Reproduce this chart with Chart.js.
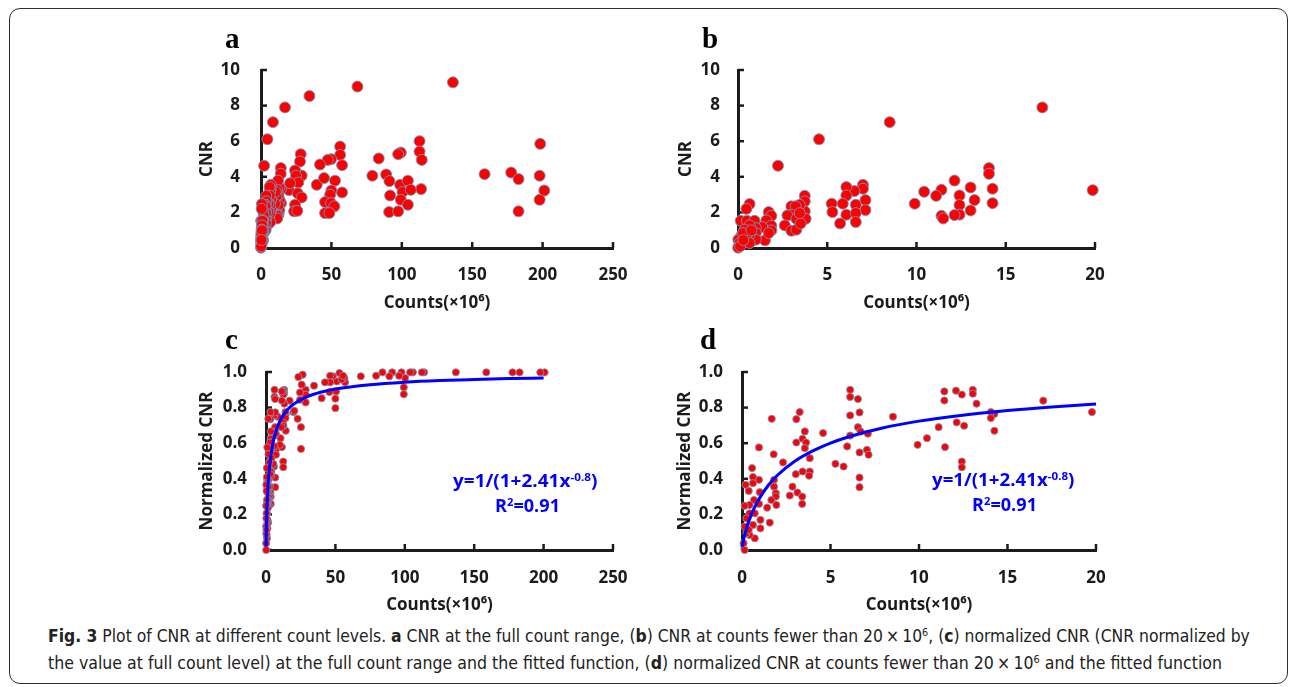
<!DOCTYPE html>
<html><head><meta charset="utf-8">
<script src="https://cdn.jsdelivr.net/npm/chart.js@4.4.0/dist/chart.umd.min.js"></script>
<style>
html,body{margin:0;padding:0;background:#fff;}
body{width:1292px;height:687px;overflow:hidden;position:relative;}
.frame{position:absolute;left:9px;top:8px;width:1279px;height:676px;border:1.5px solid #2e2e2e;border-radius:11px;box-sizing:border-box;}
canvas.cv{position:absolute;}
.letter{position:absolute;font-family:"Liberation Serif","Times New Roman",serif;font-weight:bold;font-size:29px;line-height:28px;color:#000;}
.ann{position:absolute;font-family:"Open Sans",sans-serif;font-weight:bold;color:#0000ff;font-size:17px;line-height:20px;white-space:nowrap;transform-origin:0 50%;}
.ann sup,.cap sup{font-size:0.62em;vertical-align:baseline;position:relative;top:-0.55em;}
.cap{position:absolute;left:48px;font-family:"Liberation Sans Narrow","DejaVu Sans Condensed","Open Sans",sans-serif;font-size:17px;line-height:22px;color:#222;white-space:nowrap;transform-origin:0 50%;}
.cap b{font-weight:bold;}
</style>
</head><body>
<div class="frame"></div>
<canvas id="ca" class="cv" width="460" height="270" style="left:180px;top:50px"></canvas>
<canvas id="cb" class="cv" width="460" height="270" style="left:660px;top:50px"></canvas>
<canvas id="cc" class="cv" width="460" height="270" style="left:180px;top:350px"></canvas>
<canvas id="cd" class="cv" width="460" height="270" style="left:660px;top:350px"></canvas>
<div class="letter" style="left:225px;top:24px">a</div>
<div class="letter" style="left:702px;top:24px">b</div>
<div class="letter" style="left:225px;top:325px">c</div>
<div class="letter" style="left:700px;top:325px">d</div>
<div class="ann" id="annC1">y=1/(1+2.41x<sup>-0.8</sup>)</div>
<div class="ann" id="annC2">R<sup>2</sup>=0.91</div>
<div class="ann" id="annD1">y=1/(1+2.41x<sup>-0.8</sup>)</div>
<div class="ann" id="annD2">R<sup>2</sup>=0.91</div>
<div class="cap" id="cap1"><b>Fig. 3</b> Plot of CNR at different count levels. <b>a</b> CNR at the full count range, (<b>b</b>) CNR at counts fewer than 20&thinsp;×&thinsp;10<sup>6</sup>, (<b>c</b>) normalized CNR (CNR normalized by</div>
<div class="cap" id="cap2">the value at full count level) at the full count range and the fitted function, (<b>d</b>) normalized CNR at counts fewer than 20&thinsp;×&thinsp;10<sup>6</sup> and the fitted function</div>
<script>
// ---------- DATA ----------
// CNR, counts below 20 ×10^6 (panel b, also part of panel a)
const countsLow = [17.05,8.50,4.54,2.24,19.87,14.06,14.06,14.26,14.26,13.03,13.25,13.03,12.13,12.41,12.41,12.41,12.13,11.40,11.10,11.40,11.50,10.43,9.90,
  7.00,7.00,7.14,7.14,6.52,6.07,6.07,5.87,6.07,5.72,6.60,6.60,6.60,5.25,5.29,
  3.74,3.74,3.74,3.79,3.46,2.99,3.23,2.99,2.77,2.62,2.99,3.27,3.27,3.51,3.46,
  1.72,1.87,1.59,1.87,1.87,1.36,1.51,1.72,
  0.65,0.47,0.15,0.50,0.93,1.00,1.00,1.00,0.65,0.37,0.65,0.47,0.19,0.02,0.09,0.01,0.65,0.28,0.75,0.12,0.30];
const cnrLow = [7.90,7.07,6.11,4.62,3.25,4.49,4.17,3.33,2.52,3.40,2.69,2.11,3.79,2.95,2.41,1.88,1.85,3.27,2.93,1.81,1.66,3.16,2.49,
  3.55,3.33,2.69,2.13,3.20,3.42,2.95,2.49,1.87,1.38,2.43,1.96,1.46,2.49,2.02,
  2.93,2.62,2.06,1.64,2.43,2.34,2.34,1.87,1.83,1.27,0.97,1.03,1.64,1.38,1.96,
  2.02,1.81,1.55,1.25,0.99,1.18,0.43,0.84,
  2.47,2.20,1.53,1.53,1.53,1.12,0.84,0.47,1.27,1.03,0.75,0.62,0.69,0.47,0.28,0.02,0.28,0.84,0.99,0.10,0.45];
// CNR, counts above 20 ×10^6 (rest of panel a)
const countsHigh = [136.3,68.5,34.4,198.3,197.9,201.2,197.9,177.7,182.9,182.9,158.8,112.6,112.6,114.2,113.7,99.3,97.4,83.6,79.1,88.9,91.2,91.7,91.0,97.4,98.8,100.5,99.3,104.3,106.4,104.3,
  56.2,56.2,57.6,57.6,49.8,47.4,41.9,39.6,44.8,52.6,50.0,49.1,45.5,49.8,52.1,45.5,48.6,
  28.2,27.7,28.9,24.2,24.9,26.5,20.6,26.1,28.9,24.2,23.5,25.8];
const cnrHigh = [9.31,9.07,8.54,5.85,4.06,3.23,2.71,4.24,3.87,2.06,4.15,6.00,5.42,4.95,3.31,5.36,5.27,5.03,4.06,4.13,3.76,2.95,2.02,2.06,3.55,3.14,2.71,3.78,3.27,2.43,
  5.70,5.23,4.65,3.12,4.99,4.95,4.69,3.55,3.93,3.78,3.23,2.99,2.58,2.52,2.34,1.96,1.96,
  5.27,4.86,4.07,4.36,4.06,3.68,3.64,3.07,2.84,2.43,2.06,2.09];
// Normalized CNR, counts below 20 ×10^6 (panel d, also part of panel c)
const normCountsLow = [19.77,17.02,14.26,14.26,14.06,14.06,13.04,13.04,13.25,12.09,12.42,12.13,12.55,12.42,12.42,11.43,11.43,11.47,11.11,10.45,9.92,8.53,
  6.11,6.11,6.11,6.11,6.55,6.64,6.55,6.70,6.64,6.64,6.64,7.11,7.06,7.15,5.94,5.74,5.28,4.58,
  3.26,3.07,3.55,3.42,3.62,3.55,3.07,3.83,3.83,3.79,3.42,3.04,2.85,3.13,3.40,3.40,2.70,2.32,
  1.79,1.68,1.81,1.81,1.91,1.91,1.94,1.66,1.42,1.57,
  0.96,0.96,1.00,0.96,1.04,1.04,0.57,0.62,0.62,0.21,0.38,0.68,0.43,0.15,0.72,0.43,0.25,0.62,0.72,0.43,0.15,0.25,0.38,0.09,0.15];
const normCnrLow = [0.775,0.839,0.670,0.764,0.775,0.741,0.900,0.878,0.822,0.895,0.873,0.717,0.698,0.497,0.465,0.891,0.840,0.578,0.690,0.628,0.591,0.749,
  0.900,0.860,0.756,0.643,0.848,0.773,0.690,0.666,0.548,0.407,0.353,0.653,0.563,0.535,0.582,0.469,0.484,0.657,
  0.775,0.735,0.666,0.625,0.604,0.572,0.604,0.516,0.441,0.417,0.441,0.426,0.356,0.323,0.300,0.259,0.306,0.492,
  0.538,0.737,0.394,0.356,0.319,0.300,0.253,0.281,0.238,0.154,
  0.576,0.394,0.325,0.259,0.169,0.122,0.460,0.410,0.375,0.366,0.332,0.281,0.253,0.248,0.206,0.206,0.178,0.141,0.066,0.084,0.131,0.094,0.113,0.038,0.000];
// Normalized CNR, counts above 20 ×10^6 (rest of panel c)
const normCountsHigh = [200.7,197.6,182.7,177.6,158.7,136.8,113.9,112.3,105.8,103.8,100.2,99.3,99.3,97.6,95.9,90.9,88.9,83.9,79.3,68.3,
  57.0,56.5,52.9,51.0,48.1,46.2,46.2,50.5,50.0,50.0,45.7,42.5,40.1,34.6,54.5,55.5,
  28.6,28.6,28.6,26.4,25.7,23.3,24.5,24.5,25.2,25.2,22.8,20.4];
const normCnrHigh = [0.998,0.998,0.998,0.998,0.998,0.998,0.998,0.998,0.998,0.998,0.966,0.914,0.875,0.998,0.979,0.998,0.976,0.998,0.979,0.976,
  0.942,0.966,0.994,0.947,0.976,0.979,0.942,0.891,0.850,0.797,0.887,0.942,0.853,0.923,0.958,0.979,
  0.900,0.872,0.829,0.985,0.929,0.972,0.885,0.844,0.690,0.568,0.737,0.782];
// Fitted curve y=1/(1+2.41x^-0.8)
const fitCounts = [0.02,0.05,0.1,0.2,0.3,0.5,0.75,1,1.5,2,3,4,5,6,8,10,12,15,17.5,20,30,40,50,75,100,125,150,175,200];
const fitNormCnr = [0.018,0.036,0.062,0.103,0.137,0.192,0.248,0.293,0.365,0.420,0.500,0.557,0.601,0.635,0.687,0.724,0.752,0.784,0.804,0.820,0.863,0.888,0.905,0.929,0.943,0.952,0.958,0.963,0.966];
// Tick values / labels
const xTicksFull = [0,50,100,150,200,250];
const xTicksLow = [0,5,10,15,20];
const yTicksCnr = [0,2,4,6,8,10];
const yTicksNorm = [0,0.2,0.4,0.6,0.8,1.0];
const yTickLabelsNorm = ['0.0','0.2','0.4','0.6','0.8','1.0'];
const xTitle = 'Counts(×10⁶)';

// ---------- DRAWING ----------
const AXIS = '#1b1b1b', TXT = '#1b1b1b';
const TICKFONT = {family:"'Open Sans', sans-serif", weight:'bold', size:17};
const TITLEFONT = {family:"'Open Sans', sans-serif", weight:'bold', size:17};

function pairs(xs, ys){ return xs.map((x,i)=>({x:x, y:ys[i]})); }

const innerTicks = {
  id:'innerTicks',
  beforeDatasetsDraw(chart){
    const {ctx, chartArea} = chart, x = chart.scales.x, y = chart.scales.y;
    ctx.save(); ctx.strokeStyle = AXIS; ctx.lineWidth = 2.5;
    x.ticks.forEach(t=>{ const px = x.getPixelForValue(t.value);
      ctx.beginPath(); ctx.moveTo(px, chartArea.bottom); ctx.lineTo(px, chartArea.bottom-6); ctx.stroke(); });
    y.ticks.forEach(t=>{ const py = y.getPixelForValue(t.value);
      ctx.beginPath(); ctx.moveTo(chartArea.left, py); ctx.lineTo(chartArea.left+6, py); ctx.stroke(); });
    ctx.restore();
  }
};

function pointSet(data, r){
  return {type:'scatter', data:data, pointRadius:r, pointHoverRadius:r, pointBackgroundColor:'#ff0000',
    pointBorderColor:'rgba(110,150,190,0.9)', pointBorderWidth:1, showLine:false, clip:false};
}
function fitSet(xmax){
  const d = pairs(fitCounts, fitNormCnr).filter(p=>p.x<=xmax);
  return {type:'line', data:d, borderColor:'#0000ff', borderWidth:3, pointRadius:0, fill:false,
    cubicInterpolationMode:'monotone', clip:false};
}

function build(id, o){
  return new Chart(document.getElementById(id), {
    type:'scatter',
    data:{datasets:o.datasets},
    options:{
      responsive:false, animation:false, devicePixelRatio:1, events:[],
      layout:{padding:{top:o.padTop, right:o.padRight, left:0, bottom:0}},
      plugins:{legend:{display:false}, tooltip:{enabled:false}},
      scales:{
        x:{type:'linear', position:'bottom', min:o.xTicks[0], max:o.xTicks[o.xTicks.length-1],
          grid:{display:false, drawTicks:false},
          border:{display:true, color:AXIS, width:3},
          afterBuildTicks:s=>{ s.ticks = o.xTicks.map(v=>({value:v})); },
          afterFit:s=>{ s.height = o.xAxisH; s.paddingLeft = 0; s.paddingRight = 0; },
          ticks:{padding:o.xTickPad, font:TICKFONT, color:TXT, maxRotation:0, autoSkip:false,
            callback:(v,i)=>String(o.xTicks[i])},
          title:{display:true, text:xTitle, font:TITLEFONT, color:TXT, padding:{top:0,bottom:o.xTitlePad}}
        },
        y:{type:'linear', position:'left', min:o.yTicks[0], max:o.yTicks[o.yTicks.length-1],
          grid:{display:false, drawTicks:false},
          border:{display:true, color:AXIS, width:3},
          afterBuildTicks:s=>{ s.ticks = o.yTicks.map(v=>({value:v})); },
          afterFit:s=>{ s.width = o.yAxisW; s.paddingTop = 0; s.paddingBottom = 0; },
          ticks:{padding:o.yTickPad, font:TICKFONT, color:TXT, autoSkip:false,
            callback:(v,i)=>o.yLabels[i]},
          title:{display:true, text:o.yTitle, font:TITLEFONT, color:TXT, padding:{top:o.yTitlePad,bottom:0}}
        }
      }
    },
    plugins:[innerTicks]
  });
}

const cnrLabels = yTicksCnr.map(String);
build('ca', {datasets:[pointSet(pairs(countsLow.concat(countsHigh), cnrLow.concat(cnrHigh)), 5.5)],
  xTicks:xTicksFull, yTicks:yTicksCnr, yLabels:cnrLabels, yTitle:'CNR',
  padTop:20, padRight:27, yAxisW:81, xAxisH:72, xTickPad:17, yTickPad:21, xTitlePad:7, yTitlePad:17});
build('cb', {datasets:[pointSet(pairs(countsLow, cnrLow), 5.5)],
  xTicks:xTicksLow, yTicks:yTicksCnr, yLabels:cnrLabels, yTitle:'CNR',
  padTop:20, padRight:25, yAxisW:78, xAxisH:72, xTickPad:17, yTickPad:18, xTitlePad:7, yTitlePad:16});
build('cc', {datasets:[fitSet(200), pointSet(pairs(normCountsLow.concat(normCountsHigh), normCnrLow.concat(normCnrHigh)), 3.6)],
  xTicks:xTicksFull, yTicks:yTicksNorm, yLabels:yTickLabelsNorm, yTitle:'Normalized CNR',
  padTop:22, padRight:27, yAxisW:86, xAxisH:70, xTickPad:18, yTickPad:19, xTitlePad:5, yTitlePad:17});
build('cd', {datasets:[fitSet(20), pointSet(pairs(normCountsLow, normCnrLow), 3.6)],
  xTicks:xTicksLow, yTicks:yTicksNorm, yLabels:yTickLabelsNorm, yTitle:'Normalized CNR',
  padTop:22, padRight:24, yAxisW:82, xAxisH:70, xTickPad:18, yTickPad:19, xTitlePad:5, yTitlePad:15});

// fit text blocks to the reference extents
function place(id, left, width, cy){
  const el = document.getElementById(id);
  const w = el.offsetWidth, h = el.offsetHeight;
  el.style.left = left + 'px';
  el.style.top = (cy - h/2) + 'px';
  el.style.transform = 'scaleX(' + (width / w) + ')';
}
place('annC1', 453, 144, 482);
place('annC2', 495, 65, 507);
place('annD1', 932, 142, 481);
place('annD2', 972, 65, 506);
place('cap1', 48, 1202, 637);
place('cap2', 48, 1174, 664);
</script>
</body></html>
